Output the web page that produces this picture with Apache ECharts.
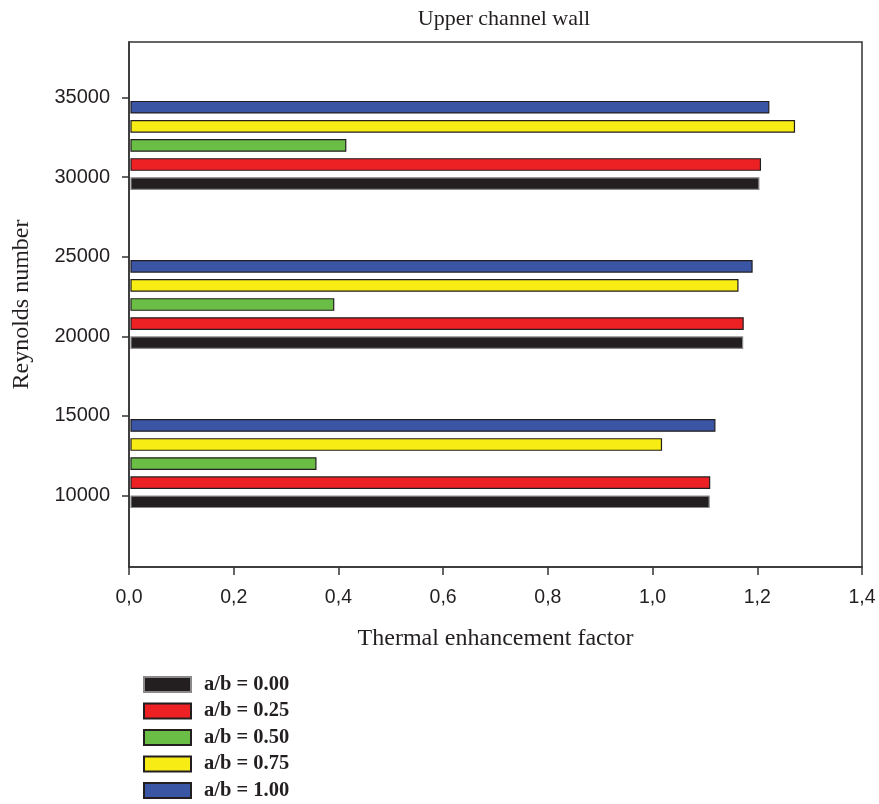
<!DOCTYPE html>
<html>
<head>
<meta charset="utf-8">
<script src="https://cdn.jsdelivr.net/npm/echarts@6/dist/echarts.min.js"></script>
<style>
  html, body { margin: 0; padding: 0; background: #fff; }
  #chart { width: 879px; height: 804px; }
</style>
</head>
<body>
<div id="chart"></div>
<script>
// Reynolds numbers (group positions on the y axis)
var reynolds = [10000, 20000, 30000];
// Thermal enhancement factor for each a/b ratio
var ab000 = [1.108, 1.172, 1.203];
var ab025 = [1.109, 1.173, 1.206];
var ab050 = [0.357, 0.391, 0.414];
var ab075 = [1.017, 1.163, 1.271];
var ab100 = [1.119, 1.190, 1.222];
var seriesNames = ['a/b = 0.00', 'a/b = 0.25', 'a/b = 0.50', 'a/b = 0.75', 'a/b = 1.00'];
var yTicks = [10000, 15000, 20000, 25000, 30000, 35000];

var colors = ['#231f20', '#ed2024', '#6abd45', '#f7ec13', '#3a55a4'];
var borders = ['#8a8a8a', '#231f20', '#231f20', '#231f20', '#231f20'];
// bar offsets inside a group (in Reynolds units) and bar thickness
var offsets = [-400, 800, 2000, 3200, 4400];
var barSpan = 720;

var myChart = echarts.init(document.getElementById('chart'));

function renderBar(params, api) {
    var x = api.value(0);
    var y = api.value(1) + offsets[params.seriesIndex];
    var start = api.coord([0, y]);
    var end = api.coord([x, y]);
    var h = api.size([0, barSpan])[1];
    return {
        type: 'rect',
        shape: { x: start[0] + 2, y: start[1] - h / 2, width: end[0] - start[0] - 2, height: h },
        style: api.style()
    };
}

var allData = [ab000, ab025, ab050, ab075, ab100];
var series = allData.map(function (vals, i) {
    return {
        name: seriesNames[i],
        type: 'custom',
        renderItem: renderBar,
        encode: { x: 0, y: 1 },
        itemStyle: { color: colors[i], borderColor: borders[i], borderWidth: 1.2 },
        data: vals.map(function (v, k) { return [v, reynolds[k]]; })
    };
});

var option = {
    animation: false,
    title: {
        text: 'Upper channel wall',
        left: 499,
        textAlign: 'center',
        top: 3,
        textStyle: { fontFamily: 'Liberation Serif', fontWeight: 'normal', fontSize: 22, color: '#231f20' }
    },
    legend: {
        orient: 'vertical',
        left: 143,
        top: 674,
        padding: 0,
        height: 150,
        itemWidth: 47,
        itemHeight: 15,
        itemGap: 5.5,
        icon: 'rect',
        data: seriesNames,
        textStyle: {
            fontFamily: 'Liberation Serif', fontWeight: 'bold', fontSize: 20.5, color: '#231f20',
            lineHeight: 19,
            padding: [0, 0, 0, 8]
        }
    },
    grid: {
        left: 129, right: 17, top: 42, bottom: 237,
        show: true, borderColor: '#333', borderWidth: 1.5
    },
    xAxis: {
        type: 'value',
        min: 0, max: 1.4, interval: 0.2,
        name: 'Thermal enhancement factor',
        nameLocation: 'middle',
        nameGap: 60,
        nameTextStyle: { fontFamily: 'Liberation Serif', fontSize: 24, color: '#231f20' },
        splitLine: { show: false },
        axisLine: { lineStyle: { color: '#333', width: 1.5 } },
        axisTick: { length: 8, lineStyle: { color: '#333', width: 1.5 } },
        axisLabel: {
            margin: 21,
            fontFamily: 'Liberation Sans', fontSize: 19.5, color: '#231f20',
            formatter: function (v) { return v.toFixed(1).replace('.', ','); }
        }
    },
    yAxis: {
        type: 'value',
        min: 5500, max: 38500,
        name: 'Reynolds number',
        nameLocation: 'middle',
        nameGap: 95,
        nameTextStyle: { fontFamily: 'Liberation Serif', fontSize: 24, color: '#231f20' },
        splitLine: { show: false },
        axisLine: { show: true, lineStyle: { color: '#333', width: 1.5 } },
        axisTick: { show: true, length: 7, customValues: yTicks, lineStyle: { color: '#333', width: 1.5 } },
        axisLabel: {
            margin: 19,
            customValues: yTicks,
            fontFamily: 'Liberation Sans', fontSize: 20, color: '#231f20',
            formatter: function (v) { return String(v); }
        }
    },
    series: series
};

myChart.setOption(option);
</script>
</body>
</html>
